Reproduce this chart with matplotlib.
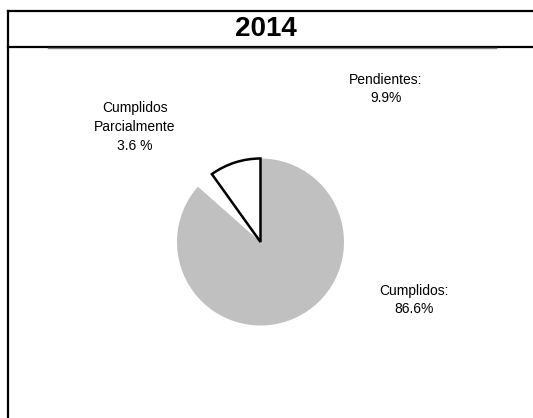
import matplotlib
matplotlib.use("Agg")
import matplotlib.pyplot as plt
from matplotlib.lines import Line2D

plt.rcParams['font.family'] = ['Liberation Sans', 'DejaVu Sans']

title = "2014"
categories = ["Pendientes", "Cumplidos Parcialmente", "Cumplidos"]
values = [9.9, 3.6, 86.6]
labels = ["Pendientes:\n9.9%", "Cumplidos\nParcialmente\n3.6 %", "Cumplidos:\n86.6%"]
face_colors = ["white", "white", "#c0c0c0"]
edge_colors = ["black", "none", "none"]

W, H = 533, 418
fig = plt.figure(figsize=(W / 100, H / 100), dpi=100)

def fx(x):
    return x / W

def fy(y):
    return 1 - y / H

# frame lines
fig.add_artist(Line2D([fx(8), fx(W)], [fy(11), fy(11)], color="black", lw=1.6))
fig.add_artist(Line2D([fx(8), fx(W)], [fy(46.5), fy(46.5)], color="black", lw=1.6))
fig.add_artist(Line2D([fx(48), fx(496)], [fy(48), fy(48)], color="#808080", lw=1.0))
fig.add_artist(Line2D([fx(8), fx(8)], [fy(10.5), fy(H)], color="black", lw=1.6))

fig.text(fx(266), fy(29.5), title, ha="center", va="center", fontsize=20, fontweight="bold")

# pie
cx, cy, r = 260.5, 242, 83.5
ax = fig.add_axes([fx(cx - r), fy(cy + r), fx(2 * r), 2 * r / H])
wedges, _ = ax.pie(values, startangle=90, counterclock=True, colors=face_colors,
                   wedgeprops=dict(linewidth=1.8))
for w, ec in zip(wedges, edge_colors):
    w.set_edgecolor(ec)
    if ec == "none":
        w.set_linewidth(0)
        w.set_zorder(1)
    else:
        w.set_zorder(3)
ax.set_xlim(-1, 1)
ax.set_ylim(-1, 1)
ax.set_aspect("equal")
ax.axis("off")

label_pos = [(386, 89), (135, 127), (414, 300)]
for lab, (x, y) in zip(labels, label_pos):
    fig.text(fx(x), fy(y), lab, ha="center", va="center", fontsize=10,
             linespacing=1.45)

fig.savefig("out.png", dpi=100)
